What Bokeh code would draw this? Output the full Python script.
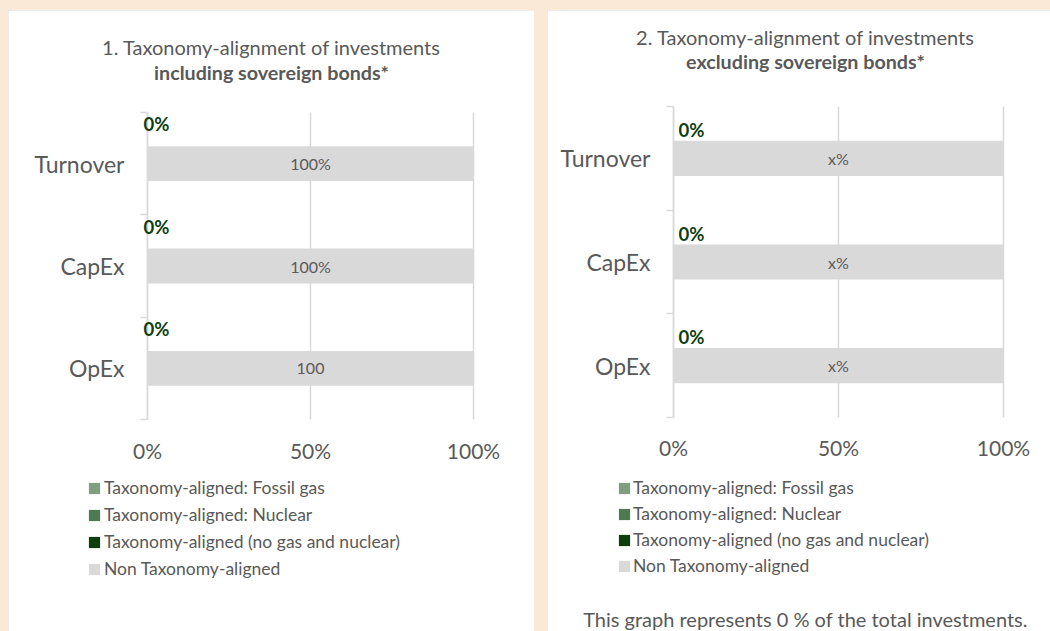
from bokeh.plotting import figure
from bokeh.models import Range1d, FixedTicker, Legend, LegendItem, LabelSet, Label, ColumnDataSource
from bokeh.layouts import row
from bokeh.core.properties import value
from bokeh.embed import file_html
from bokeh.resources import INLINE

# ---------------- data ----------------
categories = ["OpEx", "CapEx", "Turnover"]          # bottom to top
fossil_gas_1 = [0, 0, 0]
nuclear_1 = [0, 0, 0]
aligned_1 = [0, 0, 0]
non_aligned_1 = [100, 100, 100]
bar_labels_1 = ["100", "100%", "100%"]

fossil_gas_2 = [0, 0, 0]
nuclear_2 = [0, 0, 0]
aligned_2 = [0, 0, 0]
non_aligned_2 = [100, 100, 100]
bar_labels_2 = ["x%", "x%", "x%"]

x_ticks = [0, 50, 100]
x_tick_labels = ["0%", "50%", "100%"]

title_1 = ["1. Taxonomy-alignment of investments", "including sovereign bonds*"]
title_2 = ["2. Taxonomy-alignment of investments", "excluding sovereign bonds*"]
footer_2 = "This graph represents 0 % of the total investments."

legend_labels = ["Taxonomy-aligned: Fossil gas", "Taxonomy-aligned: Nuclear",
                 "Taxonomy-aligned (no gas and nuclear)", "Non Taxonomy-aligned"]
series_colors = ["#7F9F80", "#4E7A51", "#0E3E0E", "#D9D9D9"]

TEXT = "#595959"
GRID = "#D9D9D9"
FONT = "Lato"


def stacked(series):
    out = []
    left = [0] * len(categories)
    for vals in series:
        right = [a + b for a, b in zip(left, vals)]
        out.append((left, right))
        left = right
    return out


def make_panel(series, bar_labels, title, footer, W, H, plot_box, zero_dy, zero_dx, std_x,
               title_px, legend_loc, legend_spacing, legend_standoff, footer_px, margin):
    # plot_box: canvas pixels (x of 0%, x of 100%, y-from-bottom of chart bottom, of chart top)
    x0p, x1p, y0p, y1p = plot_box
    n = len(categories)
    sx = (x1p - x0p) / 100.0
    sy = (y1p - y0p) / n
    xr = Range1d(-x0p / sx, (W - x0p) / sx)
    yr = Range1d(-y0p / sy, (H - y0p) / sy)

    def X(px):
        return (px - x0p) / sx

    def Y(py):
        return (py - y0p) / sy

    p = figure(width=W, height=H, x_range=xr, y_range=yr, output_backend="svg",
               toolbar_location=None, min_border=0, outline_line_color=None,
               background_fill_color="white", border_fill_color="white")
    p.margin = margin
    p.styles = {"outline": "1px solid #D9D9D9", "outline-offset": "-1px"}
    p.grid.visible = False

    pos = [i + 0.5 for i in range(n)]

    # x axis, drawn at the bottom of the category area
    p.xaxis.fixed_location = 0
    p.xaxis.ticker = FixedTicker(ticks=x_ticks)
    p.xaxis.major_label_overrides = {t: l for t, l in zip(x_ticks, x_tick_labels)}
    p.xaxis.axis_line_color = None
    p.xaxis.major_tick_line_color = None
    p.xaxis.minor_tick_line_color = None
    p.xaxis.major_tick_out = 0
    p.xaxis.major_tick_in = 0
    p.xaxis.minor_tick_out = 0
    p.xaxis.major_label_standoff = std_x
    p.xaxis.major_label_text_font = FONT
    p.xaxis.major_label_text_font_size = "21px"
    p.xaxis.major_label_text_color = TEXT

    # y axis, drawn at 0 %
    p.yaxis.fixed_location = 0
    p.yaxis.bounds = (0, n)
    p.yaxis.ticker = FixedTicker(ticks=pos, minor_ticks=list(range(n + 1)))
    p.yaxis.major_label_overrides = {pp: c for pp, c in zip(pos, categories)}
    p.yaxis.axis_line_color = GRID
    p.yaxis.axis_line_width = 1.5
    p.yaxis.major_tick_line_color = None
    p.yaxis.major_tick_out = 0
    p.yaxis.major_tick_in = 0
    p.yaxis.minor_tick_line_color = GRID
    p.yaxis.minor_tick_line_width = 1.5
    p.yaxis.minor_tick_out = 7
    p.yaxis.minor_tick_in = 0
    p.yaxis.major_label_standoff = 16
    p.yaxis.major_label_text_font = FONT
    p.yaxis.major_label_text_font_size = "23px"
    p.yaxis.major_label_text_color = TEXT

    # vertical grid lines at the x ticks, spanning the category area
    p.segment(x0=x_ticks, y0=[0] * len(x_ticks), x1=x_ticks, y1=[n] * len(x_ticks),
              line_color=GRID, line_width=1.5)

    renderers = []
    spans = stacked(series)
    for (l, r), col in zip(spans, series_colors):
        renderers.append(p.hbar(y=pos, left=l, right=r, height=0.34, fill_color=col, line_color=None))

    l, r = spans[-1]
    mids = [(a + b) / 2 for a, b in zip(l, r)]
    p.text(x=mids, y=pos, text=bar_labels, text_align="center", text_baseline="middle",
           text_font=value(FONT), text_font_size="16px", text_color=TEXT)

    aligned_total = [a + b + c for a, b, c in zip(series[0], series[1], series[2])]
    zsrc = ColumnDataSource(dict(x=aligned_total, y=[pp + zero_dy for pp in pos],
                                 t=["%d%%" % v for v in aligned_total]))
    p.add_layout(LabelSet(x="x", y="y", text="t", source=zsrc, x_offset=zero_dx,
                          text_align="left", text_baseline="middle",
                          text_font=value(FONT), text_font_size="18.5px",
                          text_font_style="bold", text_color="#0E3E0E"))

    # two-line title
    tx, ty1, ty2 = title_px
    p.add_layout(Label(x=X(tx), y=Y(ty1), text=title[0], text_align="center",
                       text_baseline="middle", text_font=FONT, text_font_size="20px",
                       text_color=TEXT))
    p.add_layout(Label(x=X(tx), y=Y(ty2), text=title[1], text_align="center",
                       text_baseline="middle", text_font=FONT, text_font_size="19.7px",
                       text_font_style="bold", text_color=TEXT))

    legend = Legend(items=[LegendItem(label=lab, renderers=[rr]) for lab, rr in zip(legend_labels, renderers)],
                    location=legend_loc, orientation="vertical",
                    glyph_width=14, glyph_height=14, label_standoff=legend_standoff,
                    label_height=21, spacing=legend_spacing, padding=0, margin=0,
                    border_line_color=None, background_fill_alpha=0,
                    label_text_font=FONT, label_text_font_size="17.5px",
                    label_text_color=TEXT)
    p.add_layout(legend)

    if footer:
        p.add_layout(Label(x=X(footer_px[0]), y=Y(footer_px[1]), text=footer, text_align="center",
                           text_baseline="middle", text_font=FONT, text_font_size="20px",
                           text_color=TEXT))
    return p


p1 = make_panel([fossil_gas_1, nuclear_1, aligned_1, non_aligned_1], bar_labels_1, title_1, None,
                526, 621, (139, 465, 212, 519), 0.383, -4, 18,
                (263, 585, 559), (79, 52), 6, 3, None, (10, 0, 0, 8))
p2 = make_panel([fossil_gas_2, nuclear_2, aligned_2, non_aligned_2], bar_labels_2, title_2, footer_2,
                503, 621, (126, 456, 214, 525), 0.272, 5, 17,
                (258, 595, 570), (70, 55), 5, 2, (258, 13), (10, 0, 0, 13))

layout = row(p1, p2, spacing=0, styles={"background-color": "#FBE9D8"})

open("out.html", "w").write(file_html(layout, INLINE))
